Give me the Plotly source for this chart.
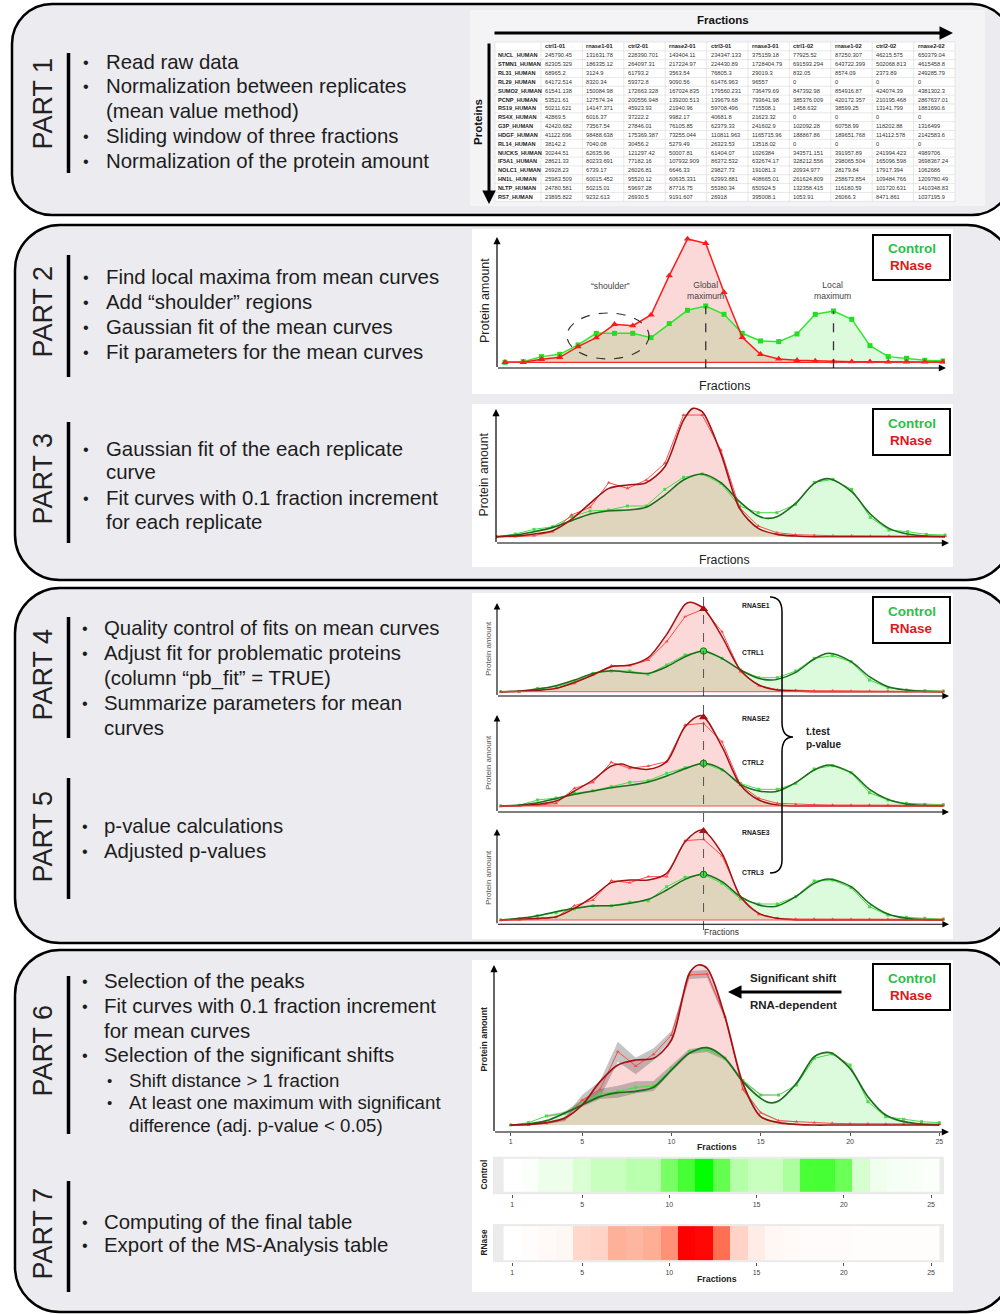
import plotly.graph_objects as go

# ======================= DATA =======================
fractions = list(range(1, 26))

table_header = ["", "ctrl1-01", "rnase1-01", "ctrl2-01", "rnase2-01", "ctrl3-01",
                "rnase3-01", "ctrl1-02", "rnase1-02", "ctrl2-02", "rnase2-02"]
protein_ids = ["NUCL_HUMAN", "STMN1_HUMAN", "RL31_HUMAN", "RL29_HUMAN", "SUMO2_HUMAN",
               "PCNP_HUMAN", "RS19_HUMAN", "RS4X_HUMAN", "G3P_HUMAN", "HDGF_HUMAN",
               "RL14_HUMAN", "NUCKS_HUMAN", "IF5A1_HUMAN", "NOLC1_HUMAN", "HN1L_HUMAN",
               "NLTP_HUMAN", "RS7_HUMAN"]
ctrl1_01 = [245790.45, 82305.329, 68965.2, 64172.514, 61541.138, 53521.61, 50211.621, 42869.5, 42420.682,
            41122.696, 38142.2, 30244.51, 28621.33, 26928.23, 25983.509, 24780.581, 23895.822]
rnase1_01 = [131631.78, 186335.12, 3124.9, 8320.34, 150084.98, 127574.34, 14147.371, 6016.37, 73567.54,
             98488.638, 7040.08, 62635.96, 80233.691, 6739.17, 60015.452, 50215.01, 9232.613]
ctrl2_01 = [228390.701, 264097.31, 61793.2, 59372.8, 172663.328, 200556.948, 45923.93, 37222.2, 27846.01,
            175369.387, 30456.2, 121297.42, 77182.16, 26026.81, 95520.12, 59697.28, 26930.5]
rnase2_01 = [143404.11, 217224.97, 3563.54, 9090.56, 167024.835, 139200.513, 21940.96, 9982.17, 76105.85,
             73255.044, 5279.49, 50007.81, 107932.909, 6646.33, 60635.331, 87716.75, 9191.607]
ctrl3_01 = [234347.133, 224430.89, 76805.3, 61476.963, 179560.231, 139679.68, 59708.496, 40681.8, 62379.33,
            110811.963, 26323.53, 61404.07, 86372.532, 29827.73, 62993.881, 55380.34, 26918]
rnase3_01 = [375159.18, 1728404.79, 29019.3, 96557, 736479.69, 793641.98, 715508.1, 21623.32, 241602.9,
             1165715.96, 13518.02, 1026384, 632674.17, 191081.3, 408665.01, 650924.5, 395008.1]
ctrl1_02 = [77925.52, 691593.294, 832.05, 0, 847392.98, 385376.009, 1458.632, 0, 102092.28,
            188867.86, 0, 343571.151, 328212.556, 20934.977, 261624.809, 132358.415, 1053.91]
rnase1_02 = [87250.307, 643722.399, 8574.09, 0, 854916.87, 420172.357, 38599.25, 0, 60758.99,
             189651.768, 0, 391957.89, 298065.504, 28179.84, 258673.854, 116180.59, 26066.3]
ctrl2_02 = [46215.575, 502068.813, 2373.89, 0, 424074.39, 210195.468, 13141.799, 0, 118202.88,
            114112.578, 0, 241994.423, 165096.598, 17917.394, 109484.766, 101720.631, 8471.861]
rnase2_02 = [650379.04, 4615458.8, 249285.79, 0, 4381302.3, 2867637.01, 1881690.6, 0, 1316499,
             2142583.6, 0, 4989706, 3698367.24, 1062686, 1209780.49, 1410348.83, 1037195.9]

# Part 2 – mean curves
p2_control = [0, 2, 17, 24, 52, 87, 87, 87, 74, 116, 156, 169, 144, 87, 64, 62, 85, 144, 154, 129, 50, 17, 12, 6, 4]
p2_rnase = [0, 0, 9, 15, 47, 74, 114, 110, 142, 260, 370, 357, 210, 75, 24, 10, 6, 4, 2, 2, 2, 1, 1, 1, 1]

# Part 3 – replicate curve and fits
p3_ctrl_raw = [0, 8, 22, 30, 60, 77, 80, 92, 92, 142, 178, 188, 160, 92, 72, 72, 97, 163, 172, 142, 58, 20, 15, 7, 5]
p3_rnase_raw = [0, 0, 3, 15, 65, 88, 162, 145, 170, 220, 365, 365, 260, 88, 32, 12, 6, 4, 3, 3, 2, 2, 2, 2, 2]
p3_ctrl_fit_x = [1, 2, 3, 4, 5, 6, 7, 8, 9, 10, 11, 12, 13, 14, 15, 15.5, 16, 17, 18, 18.8, 20, 21, 22, 23, 24, 25]
p3_ctrl_fit = [0, 5, 15, 28, 48, 68, 78, 80, 88, 125, 170, 188, 162, 105, 62, 55, 60, 100, 160, 174, 135, 68, 25, 8, 2, 0]
p3_rnase_fit_x = [1, 2, 3, 4, 5, 6, 7, 8, 9, 10, 11, 11.5, 12, 13, 14, 15, 16, 17, 18, 19, 20, 21, 22, 23, 24, 25]
p3_rnase_fit = [0, 2, 8, 18, 52, 100, 145, 155, 162, 210, 350, 385, 375, 250, 85, 25, 7, 2, 0, 0, 0, 0, 0, 0, 0, 0]

# Part 4/5 – three replicates
ctrl_fit_x_c = [1, 2, 3, 4, 5, 6, 7, 8, 9, 10, 11, 12, 13, 14, 15, 15.7, 16, 17, 18, 18.8, 20, 21, 22, 23, 24, 25]
c1_ctrl_raw = [0, 0, 10, 15, 30, 55, 62, 62, 52, 80, 110, 122, 100, 65, 42, 42, 62, 100, 108, 90, 35, 12, 5, 3, 2]
c1_rnase_raw = [0, 0, 5, 10, 25, 52, 78, 78, 95, 150, 225, 248, 180, 60, 18, 6, 4, 3, 3, 2, 2, 2, 1, 1, 1]
c1_ctrl_fit = [0, 2, 8, 18, 35, 55, 63, 58, 55, 75, 105, 122, 100, 65, 40, 35, 37, 58, 98, 115, 90, 45, 15, 5, 1, 0]
c1_rnase_fit_x = [1, 2, 3, 4, 5, 6, 7, 8, 9, 10, 11, 11.3, 12, 13, 14, 15, 16, 17, 18, 19, 20, 21, 22, 23, 24, 25]
c1_rnase_fit = [0, 1, 4, 10, 28, 50, 75, 80, 102, 172, 262, 268, 250, 165, 65, 20, 5, 2, 0, 0, 0, 0, 0, 0, 0, 0]
c1_peaks = [122, 248]

c2_ctrl_raw = [0, 2, 18, 24, 38, 46, 58, 71, 76, 98, 115, 128, 108, 68, 50, 50, 68, 111, 121, 100, 40, 18, 8, 5, 4]
c2_rnase_raw = [0, 0, 2, 8, 53, 71, 131, 113, 120, 133, 243, 248, 193, 63, 23, 8, 5, 4, 3, 3, 3, 2, 2, 2, 2]
c2_ctrl_fit = [0, 3, 10, 22, 35, 45, 55, 62, 72, 90, 112, 128, 110, 65, 45, 42, 44, 70, 108, 123, 100, 50, 20, 6, 2, 0]
c2_rnase_fit_x = [1, 2, 3, 4, 5, 6, 7, 7.6, 8, 9, 10, 11, 11.9, 13, 14, 15, 16, 17, 18, 19, 20, 21, 22, 23, 24, 25]
c2_rnase_fit = [0, 1, 5, 15, 45, 78, 120, 126, 118, 110, 133, 238, 271, 178, 63, 18, 3, 0, 0, 0, 0, 0, 0, 0, 0, 0]
c2_peaks = [128, 266]

c3_ctrl_raw = [0, 3, 13, 22, 33, 43, 43, 53, 58, 100, 128, 137, 110, 63, 48, 48, 70, 117, 120, 97, 40, 15, 8, 5, 3]
c3_rnase_raw = [0, 0, 3, 8, 43, 60, 118, 112, 130, 130, 238, 242, 193, 70, 17, 5, 3, 3, 2, 2, 2, 2, 2, 2, 2]
c3_ctrl_fit = [0, 5, 13, 25, 35, 42, 43, 50, 62, 90, 122, 137, 115, 70, 45, 40, 42, 70, 110, 123, 100, 50, 18, 5, 1, 0]
c3_rnase_fit_x = [1, 2, 3, 4, 5, 6, 7, 8, 9, 10, 11, 11.9, 13, 14, 15, 16, 17, 18, 19, 20, 21, 22, 23, 24, 25]
c3_rnase_fit = [0, 2, 5, 10, 35, 70, 112, 120, 120, 140, 235, 270, 200, 70, 20, 5, 0, 0, 0, 0, 0, 0, 0, 0, 0]
c3_peaks = [137, 267]

# Part 6 – mean curves with fits and spread
p6_ctrl_raw = [0, 7, 27, 35, 65, 93, 100, 113, 117, 170, 220, 227, 200, 133, 90, 90, 120, 200, 213, 180, 70, 25, 17, 10, 7]
p6_rnase_raw = [0, 0, 5, 17, 75, 107, 220, 177, 212, 270, 450, 453, 325, 107, 37, 13, 10, 7, 5, 4, 4, 3, 3, 3, 3]
p6_ctrl_fit_x = [1, 2, 3, 4, 5, 6, 7, 8, 9, 10, 11, 12, 13, 14, 15, 15.5, 16, 17, 18, 18.7, 19, 20, 21, 22, 23, 24, 25]
p6_ctrl_fit = [0, 3, 13, 35, 60, 85, 97, 101, 113, 165, 215, 232, 200, 130, 80, 67, 72, 125, 205, 218, 215, 170, 85, 30, 10, 3, 0]
p6_rnase_fit_x = [1, 2, 3, 4, 5, 6, 7, 8, 9, 10, 11, 11.5, 12, 13, 14, 15, 16, 17, 18, 19, 20, 21, 22, 23, 24, 25]
p6_rnase_fit = [0, 2, 7, 20, 60, 130, 180, 195, 200, 255, 455, 480, 470, 325, 125, 25, 7, 2, 0, 0, 0, 0, 0, 0, 0, 0]
p6_ctrl_sd = [0, 0, 3, 5, 10, 15, 18, 18, 15, 10, 8, 8, 6, 4, 2, 1, 0, 0, 0, 0, 0, 0, 0, 0, 0]
p6_rnase_sd = [0, 0, 3, 6, 15, 25, 30, 25, 18, 12, 12, 12, 8, 5, 3, 2, 1, 0, 0, 0, 0, 0, 0, 0, 0]
fraction_ticks = [1, 5, 10, 15, 20, 25]

# Part 7 – heatmaps
control_heat = [0, 0.02, 0.08, 0.08, 0.17, 0.25, 0.25, 0.31, 0.31, 0.58, 0.77, 1.0, 0.66, 0.33, 0.25,
                0.25, 0.37, 0.76, 0.77, 0.63, 0.19, 0.07, 0.04, 0.03, 0.02]
rnase_heat = [0, 0.01, 0.03, 0.04, 0.19, 0.21, 0.37, 0.34, 0.38, 0.5, 1.0, 0.98, 0.64, 0.21, 0.09,
              0.04, 0.03, 0.02, 0.02, 0.02, 0.01, 0.01, 0.01, 0.01, 0.01]

# ======================= HELPERS =======================
W, H = 1000, 1314
FONT = "Liberation Sans, Arial, Helvetica, sans-serif"
TXT = "#1c1c1c"
PANEL = "#ececf0"
GFILL = "rgba(40,225,40,0.16)"
RFILL = "rgba(235,30,30,0.17)"
GRAW = "#45dd45"
RRAW = "#ff4a4a"
GFIT = "#1d6b1d"
RFIT = "#a31212"
GLEG = "#2cbf48"
RLEG = "#dd1a1a"
GREEN_SCALE = [[0, "#ffffff"], [0.25, "#c8ffbe"], [0.5, "#8cff78"], [0.75, "#4cff38"], [1, "#00ff00"]]
RED_SCALE = [[0, "#ffffff"], [0.2, "#ffd5c8"], [0.4, "#ffa98f"], [0.6, "#ff7a5c"], [0.8, "#ff4a2e"], [1, "#ff0000"]]


def px(x):
    return x / W


def py(y):
    return 1 - y / H


fig = go.Figure()
shapes = []
annotations = []
axes = {}


def P(x, y):
    return f"{px(x):.5f},{py(y):.5f}"


def rrect(x0, y0, x1, y1, r, fill, lw=2.5):
    k = 0.5523 * r
    path = (f"M{P(x0 + r, y0)} L{P(x1 - r, y0)} "
            f"C{P(x1 - r + k, y0)} {P(x1, y0 + r - k)} {P(x1, y0 + r)} "
            f"L{P(x1, y1 - r)} "
            f"C{P(x1, y1 - r + k)} {P(x1 - r + k, y1)} {P(x1 - r, y1)} "
            f"L{P(x0 + r, y1)} "
            f"C{P(x0 + r - k, y1)} {P(x0, y1 - r + k)} {P(x0, y1 - r)} "
            f"L{P(x0, y0 + r)} "
            f"C{P(x0, y0 + r - k)} {P(x0 + r - k, y0)} {P(x0 + r, y0)} Z")
    shapes.append(dict(type="path", path=path, xref="paper", yref="paper", fillcolor=fill,
                       line=dict(color="black", width=lw), layer="below"))


def rect(x0, y0, x1, y1, fill, lw=0, lc="black", layer="below"):
    shapes.append(dict(type="rect", xref="paper", yref="paper", x0=px(x0), x1=px(x1), y0=py(y1), y1=py(y0),
                       fillcolor=fill, line=dict(color=lc, width=lw), layer=layer))


def pline(x0, y0, x1, y1, color="black", width=1, dash="solid", layer="above"):
    shapes.append(dict(type="line", xref="paper", yref="paper", x0=px(x0), x1=px(x1), y0=py(y0), y1=py(y1),
                       line=dict(color=color, width=width, dash=dash), layer=layer))


def txt(x, y, s, size, color=TXT, xanchor="left", bold=False, angle=0, yanchor="middle"):
    if bold:
        s = f"<b>{s}</b>"
    annotations.append(dict(x=px(x), y=py(y), xref="paper", yref="paper", text=s, showarrow=False,
                            xanchor=xanchor, yanchor=yanchor, textangle=angle, borderpad=0,
                            font=dict(family=FONT, size=size, color=color)))


def arrow(x0, y0, x1, y1, width=1.3, size=1.0, head=2, color="black"):
    annotations.append(dict(x=px(x1), y=py(y1), xref="paper", yref="paper", ax=x0 - x1, ay=y0 - y1,
                            axref="pixel", ayref="pixel", text="", showarrow=True, arrowhead=head,
                            arrowsize=size, arrowwidth=width, arrowcolor=color, standoff=0))


def ax_ids(i):
    return ("x", "y") if i == 1 else (f"x{i}", f"y{i}")


def setup_axes(i, X0, X1, f1px, s, Y0, Y1, base, xvisible=False):
    xn, yn = ax_ids(i)
    xa = dict(domain=[px(X0), px(X1)], range=[1 + (X0 - f1px) / s, 1 + (X1 - f1px) / s], anchor=yn,
              visible=xvisible, showgrid=False, zeroline=False, showline=False, fixedrange=True)
    ya = dict(domain=[py(Y1), py(Y0)], range=[(base - Y1) * 3, (base - Y0) * 3], anchor=xn,
              visible=False, showgrid=False, zeroline=False, fixedrange=True)
    axes["xaxis" if i == 1 else f"xaxis{i}"] = xa
    axes["yaxis" if i == 1 else f"yaxis{i}"] = ya


def legend_box(x0, y0, x1, y1):
    rect(x0, y0, x1, y1, "white", lw=2, layer="above")
    cx = (x0 + x1) / 2
    h = y1 - y0
    txt(cx, y0 + h * 0.31, "Control", 13.5, color=GLEG, xanchor="center", bold=True)
    txt(cx, y0 + h * 0.68, "RNase", 13.5, color=RLEG, xanchor="center", bold=True)


def sc(i, x, y, **kw):
    xn, yn = ax_ids(i)
    fig.add_trace(go.Scatter(x=x, y=y, xaxis=xn, yaxis=yn, hoverinfo="skip", **kw))


def fit_chart(i, ctrl_raw, rnase_raw, cfx, cfy, rfx, rfy, fit_w=1.6, ribbon=None):
    sm = 0.85
    sc(i, cfx, cfy, mode="lines", line=dict(width=0, shape="spline", smoothing=sm, color=GFIT),
       fill="tozeroy", fillcolor=GFILL)
    sc(i, rfx, rfy, mode="lines", line=dict(width=0, shape="spline", smoothing=sm, color=RFIT),
       fill="tozeroy", fillcolor=RFILL)
    if ribbon is not None:
        for raw, sd in ribbon:
            idx = [k for k in range(len(fractions)) if sd[k] > 0]
            xs = [fractions[k] for k in idx]
            up = [raw[k] + sd[k] for k in idx]
            lo = [raw[k] - sd[k] for k in idx]
            sc(i, xs + xs[::-1], up + lo[::-1], mode="lines", line=dict(width=0),
               fill="toself", fillcolor="rgba(80,80,80,0.33)")
    sc(i, fractions, ctrl_raw, mode="lines+markers", line=dict(color=GRAW, width=1),
       marker=dict(size=3, color=GRAW, symbol="square"))
    sc(i, fractions, rnase_raw, mode="lines+markers", line=dict(color=RRAW, width=1),
       marker=dict(size=3.5, color=RRAW, symbol="triangle-up"))
    sc(i, cfx, cfy, mode="lines", line=dict(color=GFIT, width=fit_w, shape="spline", smoothing=sm))
    sc(i, rfx, rfy, mode="lines", line=dict(color=RFIT, width=fit_w, shape="spline", smoothing=sm))


# ======================= PANELS =======================
rrect(12, 4, 1012, 215, 40, PANEL)
rrect(15, 225, 1012, 580, 45, PANEL)
rrect(15, 588, 1012, 943, 45, PANEL)
rrect(15, 950, 1012, 1312, 45, PANEL)

# white chart areas
rect(470, 10, 985, 206, "#f4f4f6")
rect(472, 229, 953, 394, "white")
rect(472, 404, 953, 567, "white")
rect(472, 593, 953, 939, "white")
rect(472, 960, 953, 1292, "white")


# ======================= LEFT TEXT =======================
def part(label, yc, bar_y0, bar_y1):
    txt(42.5, yc, label, 27, color="#222", xanchor="center", angle=-90)
    pline(68.5, bar_y0, 68.5, bar_y1, color="black", width=3.5)


def bullet(y, s, xb=86, xt=105, size=20.4, dot=True):
    if dot:
        txt(xb, y, "•", size * 0.8, xanchor="center")
    txt(xt, y, s, size)


part("PART 1", 104, 53, 173)
bullet(62, "Read raw data")
bullet(86, "Normalization between replicates")
bullet(111, "(mean value method)", dot=False)
bullet(136, "Sliding window of three fractions")
bullet(161, "Normalization of the protein amount")

part("PART 2", 312, 255, 377)
bullet(277, "Find local maxima from mean curves")
bullet(302, "Add “shoulder” regions")
bullet(327, "Gaussian fit of the mean curves")
bullet(352, "Fit parameters for the mean curves")

part("PART 3", 479, 422, 543)
bullet(449, "Gaussian fit of the each replicate")
bullet(472, "curve", dot=False)
bullet(498, "Fit curves with 0.1 fraction increment")
bullet(522, "for each replicate", dot=False)

part("PART 4", 675, 617, 738)
bullet(628, "Quality control of fits on mean curves", 85, 103)
bullet(653, "Adjust fit for problematic proteins", 85, 103)
bullet(678, "(column “pb_fit” = TRUE)", 85, 103, dot=False)
bullet(703, "Summarize parameters for mean", 85, 103)
bullet(728, "curves", 85, 103, dot=False)

part("PART 5", 837, 778, 899)
bullet(826, "p-value calculations", 85, 103)
bullet(851, "Adjusted p-values", 85, 103)

part("PART 6", 1051, 976, 1134)
bullet(981, "Selection of the peaks", 85, 103)
bullet(1006, "Fit curves with 0.1 fraction increment", 85, 103)
bullet(1031, "for mean curves", 85, 103, dot=False)
bullet(1055, "Selection of the significant shifts", 85, 103)
bullet(1080, "Shift distance &gt; 1 fraction", 109, 128, size=18.7)
bullet(1102, "At least one maximum with significant", 109, 128, size=18.7)
bullet(1125, "difference (adj. p-value &lt; 0.05)", 109, 128, size=18.7, dot=False)

part("PART 7", 1234, 1181, 1292)
bullet(1222, "Computing of the final table", 85, 103)
bullet(1245, "Export of the MS-Analysis table", 85, 103)

# ======================= PART 1 TABLE =======================
txt(723, 20, "Fractions", 11.5, color="#111", xanchor="center", bold=True)
txt(478, 122, "Proteins", 11.5, color="#111", xanchor="center", bold=True, angle=-90)
arrow(493, 33, 953, 33, width=3, size=0.9)
arrow(489, 42, 489, 204, width=3, size=0.9)

table_cols = [ctrl1_01, rnase1_01, ctrl2_01, rnase2_01, ctrl3_01, rnase3_01, ctrl1_02, rnase1_02, ctrl2_02, rnase2_02]
T_X0, T_Y0, ROW_H, C0_W, C_W = 495, 42, 8.85, 46, 41.4
n_rows = len(protein_ids) + 1
T_X1 = T_X0 + C0_W + C_W * len(table_cols)
T_Y1 = T_Y0 + ROW_H * n_rows
rect(T_X0, T_Y0, T_X1, T_Y1, "white")
for r in range(n_rows + 1):
    pline(T_X0, T_Y0 + r * ROW_H, T_X1, T_Y0 + r * ROW_H, color="#d9d9d9", width=0.6, layer="below")
col_lefts = [T_X0] + [T_X0 + C0_W + j * C_W for j in range(len(table_cols))]
for xl in col_lefts + [T_X1]:
    pline(xl, T_Y0, xl, T_Y1, color="#d9d9d9", width=0.6, layer="below")
for j, h in enumerate(table_header):
    if h:
        txt(col_lefts[j] + 3, T_Y0 + ROW_H * 0.5, h, 5.7, color="#222", bold=True)
for r, pid in enumerate(protein_ids):
    yc = T_Y0 + ROW_H * (r + 1.5)
    txt(col_lefts[0] + 2, yc, pid, 5.6, color="#222", bold=True)
    for j, col in enumerate(table_cols):
        txt(col_lefts[j + 1] + 3, yc, str(col[r]), 5.7, color="#333")

# ======================= PART 2 CHART (axis 1) =======================
setup_axes(1, 497, 945, 505, 18.25, 232, 368, 362.3)
sc(1, fractions, p2_control, mode="lines", line=dict(width=0), fill="tozeroy", fillcolor=GFILL)
sc(1, fractions, p2_rnase, mode="lines", line=dict(width=0), fill="tozeroy", fillcolor=RFILL)
shapes.append(dict(type="line", xref="x", yref="y", x0=1, x1=25, y0=0, y1=0,
                   line=dict(color="#ff2a2a", width=1.2)))
sc(1, fractions, p2_control, mode="lines+markers", line=dict(color="#2ee62e", width=1.5),
   marker=dict(symbol="square", size=5, color="#22dd22"))
sc(1, fractions, p2_rnase, mode="lines+markers", line=dict(color="#ff1a1a", width=1.5),
   marker=dict(symbol="triangle-up", size=6.5, color="#ff1a1a"))
for f in (12, 19):
    shapes.append(dict(type="line", xref="x", yref="y", x0=f, x1=f, y0=-18, y1=p2_control[f - 1],
                       line=dict(color="#333", width=1.3, dash="dash")))
shapes.append(dict(type="circle", xref="paper", yref="paper", x0=px(567), x1=px(649), y0=py(359), y1=py(313),
                   line=dict(color="#333", width=1.2, dash="dash")))
txt(610, 286, "“shoulder”", 8.6, color="#444", xanchor="center")
txt(705, 291, "Global<br>maximum", 8.6, color="#444", xanchor="center")
txt(832, 291, "Local<br>maximum", 8.6, color="#444", xanchor="center")
arrow(497, 368.5, 497, 237, width=1.2, size=1.2)
arrow(496.5, 368, 946, 368, width=1.2, size=1.2)
txt(485, 301, "Protein amount", 12.5, color="#222", xanchor="center", angle=-90)
txt(724, 386, "Fractions", 12.5, color="#222", xanchor="center")
legend_box(873, 235, 950, 280)

# ======================= PART 3 CHART (axis 2) =======================
setup_axes(2, 496, 948, 496.7, 18.68, 404, 543, 536.7)
fit_chart(2, p3_ctrl_raw, p3_rnase_raw, p3_ctrl_fit_x, p3_ctrl_fit, p3_rnase_fit_x, p3_rnase_fit)
arrow(496, 543.5, 496, 409, width=1.2, size=1.2)
arrow(495.5, 543, 949, 543, width=1.2, size=1.2)
txt(483.5, 475, "Protein amount", 12.3, color="#222", xanchor="center", angle=-90)
txt(724, 560, "Fractions", 12.3, color="#222", xanchor="center")
legend_box(873, 409, 950, 455)

# ======================= PART 4/5 CHARTS (axes 3-5) =======================
c_specs = [
    (3, 593, 696, 691.7, c1_ctrl_raw, c1_rnase_raw, c1_ctrl_fit, c1_rnase_fit_x, c1_rnase_fit, c1_peaks, 649, "1", 605, 652),
    (4, 712, 812, 806.0, c2_ctrl_raw, c2_rnase_raw, c2_ctrl_fit, c2_rnase_fit_x, c2_rnase_fit, c2_peaks, 763, "2", 718, 762),
    (5, 826, 924.3, 920.0, c3_ctrl_raw, c3_rnase_raw, c3_ctrl_fit, c3_rnase_fit_x, c3_rnase_fit, c3_peaks, 878, "3", 832, 872),
]
for (i, Y0, Y1, base, cr, rr, cf, rfx, rf, pk, ylab, num, yr_lab, yc_lab) in c_specs:
    setup_axes(i, 497, 948, 500.7, 18.44, Y0, Y1, base)
    shapes.append(dict(type="line", xref=f"x{i}", yref=f"y{i}", x0=1, x1=25, y0=0, y1=0,
                       line=dict(color="#ff4a4a", width=1)))
    fit_chart(i, cr, rr, ctrl_fit_x_c, cf, rfx, rf, fit_w=1.5)
    sc(i, [12], [pk[0]], mode="markers", marker=dict(symbol="circle", size=6.5, color="#3ae03a",
                                                     line=dict(color=GFIT, width=1)))
    sc(i, [12], [pk[1]], mode="markers", marker=dict(symbol="triangle-up", size=8, color=RFIT))
    arrow(497, Y1 + 0.5, 497, Y0 + 10 if i == 3 else Y0 + 3, width=1.1, size=1.2)
    arrow(496.5, Y1, 949, Y1, width=1.1, size=1.2)
    txt(488, ylab, "Protein amount", 8, color="#555", xanchor="center", angle=-90)
    txt(740.5, yr_lab, "RNASE" + num, 6.8, color="#222", bold=True)
    txt(740.5, yc_lab, "CTRL" + num, 6.8, color="#222", bold=True)

shapes.append(dict(type="line", xref="x3", yref="paper", x0=12, x1=12, y0=py(930), y1=py(590),
                   line=dict(color="#555", width=1, dash="dash")))
txt(721, 932, "Fractions", 8.5, color="#333", xanchor="center")
legend_box(873, 597, 950, 643)
brace = (f"M{P(770, 597)} Q{P(782, 597)} {P(782, 612)} L{P(782, 722)} Q{P(782, 737)} {P(793, 737)} "
         f"Q{P(782, 737)} {P(782, 752)} L{P(782, 860)} Q{P(782, 873)} {P(770, 873)}")
shapes.append(dict(type="path", path=brace, xref="paper", yref="paper", line=dict(color="black", width=1.5)))
txt(805, 731, "t.test", 10, color="#222", bold=True)
txt(805, 744, "p-value", 10, color="#222", bold=True)

# ======================= PART 6 CHART (axis 6) =======================
setup_axes(6, 494, 948, 510.7, 17.86, 960, 1132, 1125, xvisible=True)
axes["xaxis6"].update(tickvals=fraction_ticks, ticks="outside", ticklen=3, tickcolor="#555",
                      tickfont=dict(family=FONT, size=7, color="#444"), showticklabels=True)
fit_chart(6, p6_ctrl_raw, p6_rnase_raw, p6_ctrl_fit_x, p6_ctrl_fit, p6_rnase_fit_x, p6_rnase_fit,
          fit_w=1.7, ribbon=[(p6_rnase_raw, p6_rnase_sd), (p6_ctrl_raw, p6_ctrl_sd)])
arrow(494, 1132.5, 494, 965, width=1.2, size=1.2)
arrow(493.5, 1132, 949, 1132, width=1.2, size=1.2)
txt(483.5, 1039, "Protein amount", 8.8, color="#222", xanchor="center", bold=True, angle=-90)
txt(717, 1147, "Fractions", 8.8, color="#222", xanchor="center", bold=True)
legend_box(873, 964, 950, 1010)
txt(793, 978, "Significant shift", 11.5, color="#222", xanchor="center", bold=True)
txt(793, 1005, "RNA-dependent", 11.5, color="#222", xanchor="center", bold=True)
arrow(843, 992, 728, 992, width=3, size=0.9)

# ======================= PART 7 HEATMAPS (axes 7, 8) =======================
for i, vals, scale, Y0, Y1, lab, ylab in [
    (7, control_heat, GREEN_SCALE, 1156.7, 1194.3, "Control", 1175),
    (8, rnase_heat, RED_SCALE, 1224.0, 1262.3, "RNase", 1243),
]:
    xn, yn = ax_ids(i)
    X0, X1, f1, s = 493, 944, 512.3, 17.45
    axes[f"xaxis{i}"] = dict(domain=[px(X0), px(X1)], range=[1 + (X0 - f1) / s, 1 + (X1 - f1) / s],
                             anchor=yn, tickvals=fraction_ticks, ticks="outside", ticklen=3, tickcolor="#555",
                             tickfont=dict(family=FONT, size=7, color="#444"), showgrid=False,
                             zeroline=False, showline=False, fixedrange=True)
    axes[f"yaxis{i}"] = dict(domain=[py(Y1), py(Y0)], range=[-0.563, 0.563], anchor=xn, visible=False,
                             fixedrange=True)
    rect(X0, Y0, X1, Y1, "#ebebeb")
    fig.add_trace(go.Heatmap(z=[vals], x=fractions, y=[0], colorscale=scale, zmin=0, zmax=1,
                             showscale=False, xaxis=xn, yaxis=yn, hoverinfo="skip"))
    txt(483.5, ylab, lab, 8.4, color="#222", xanchor="center", bold=True, angle=-90)
txt(717, 1279, "Fractions", 8.8, color="#222", xanchor="center", bold=True)

# ======================= LAYOUT =======================
fig.update_layout(
    width=W, height=H, margin=dict(l=0, r=0, t=0, b=0),
    paper_bgcolor="white", plot_bgcolor="rgba(0,0,0,0)",
    showlegend=False, shapes=shapes, annotations=annotations,
    font=dict(family=FONT), **axes,
)

fig.write_html("out.html", config={"displayModeBar": False},
               post_script="document.body.style.margin='0px';document.body.style.overflow='hidden';")
